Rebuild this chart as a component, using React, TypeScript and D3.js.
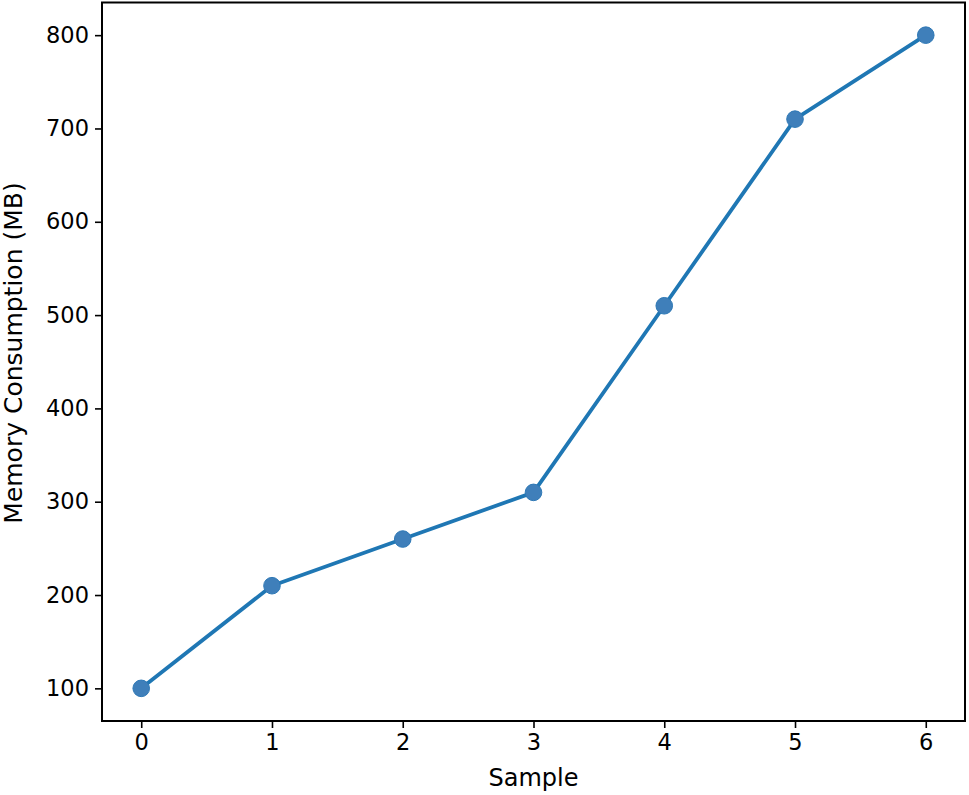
import React, { useEffect, useRef } from "react";
import * as d3 from "d3";

const samples = [0, 1, 2, 3, 4, 5, 6];
const memory = [100, 210, 260, 310, 510, 710, 800];
const yTicks = [100, 200, 300, 400, 500, 600, 700, 800];

const App = () => {
  const svgRef = useRef<SVGSVGElement>(null);

  useEffect(() => {
    const width = 969;
    const height = 795;
    const margin = { top: 2.5, right: 4, bottom: 74, left: 102 };
    const font = "DejaVu Sans, sans-serif";

    const svg = d3.select(svgRef.current);
    svg.selectAll("*").remove();
    svg.attr("width", width).attr("height", height);

    const x = d3
      .scaleLinear()
      .domain([-0.3, 6.3])
      .range([margin.left, width - margin.right]);
    const y = d3
      .scaleLinear()
      .domain([65, 835])
      .range([height - margin.bottom, margin.top]);

    const data = samples.map((s, i) => ({ s, v: memory[i] }));

    // x axis
    const xAxis = svg
      .append("g")
      .attr("transform", `translate(0,${height - margin.bottom})`)
      .call(d3.axisBottom(x).tickValues(samples).tickSize(7).tickPadding(6).tickFormat(d3.format("d")));
    xAxis.select(".domain").remove();

    // y axis
    const yAxis = svg
      .append("g")
      .attr("transform", `translate(${margin.left},0)`)
      .call(d3.axisLeft(y).tickValues(yTicks).tickSize(7).tickPadding(6));
    yAxis.select(".domain").remove();

    svg
      .selectAll(".tick line")
      .attr("stroke", "#000")
      .attr("stroke-width", 1.6);
    svg
      .selectAll(".tick text")
      .attr("font-family", font)
      .attr("font-size", 22.5)
      .attr("fill", "#000");

    // line
    svg
      .append("path")
      .datum(data)
      .attr("fill", "none")
      .attr("stroke", "#1f77b4")
      .attr("stroke-width", 3.8)
      .attr("stroke-linejoin", "round")
      .attr(
        "d",
        d3
          .line<{ s: number; v: number }>()
          .x((d) => x(d.s))
          .y((d) => y(d.v))
      );

    // markers
    svg
      .append("g")
      .selectAll("circle")
      .data(data)
      .join("circle")
      .attr("cx", (d) => x(d.s))
      .attr("cy", (d) => y(d.v))
      .attr("r", 8.3)
      .attr("fill", "#3f7fba")
      .attr("stroke", "#2f79b6")
      .attr("stroke-width", 1);

    // frame
    svg
      .append("rect")
      .attr("x", margin.left)
      .attr("y", margin.top)
      .attr("width", width - margin.left - margin.right)
      .attr("height", height - margin.top - margin.bottom)
      .attr("fill", "none")
      .attr("stroke", "#000")
      .attr("stroke-width", 2);

    // labels
    svg
      .append("text")
      .attr("x", (margin.left + width - margin.right) / 2)
      .attr("y", 786)
      .attr("text-anchor", "middle")
      .attr("font-family", font)
      .attr("font-size", 24)
      .text("Sample");

    svg
      .append("text")
      .attr("transform", `translate(22,353) rotate(-90)`)
      .attr("text-anchor", "middle")
      .attr("font-family", font)
      .attr("font-size", 25)
      .text("Memory Consumption (MB)");
  }, []);

  return (
    <svg
      ref={svgRef}
      style={{ position: "absolute", left: 0, top: 0, background: "#fff" }}
    ></svg>
  );
};

export default App;
